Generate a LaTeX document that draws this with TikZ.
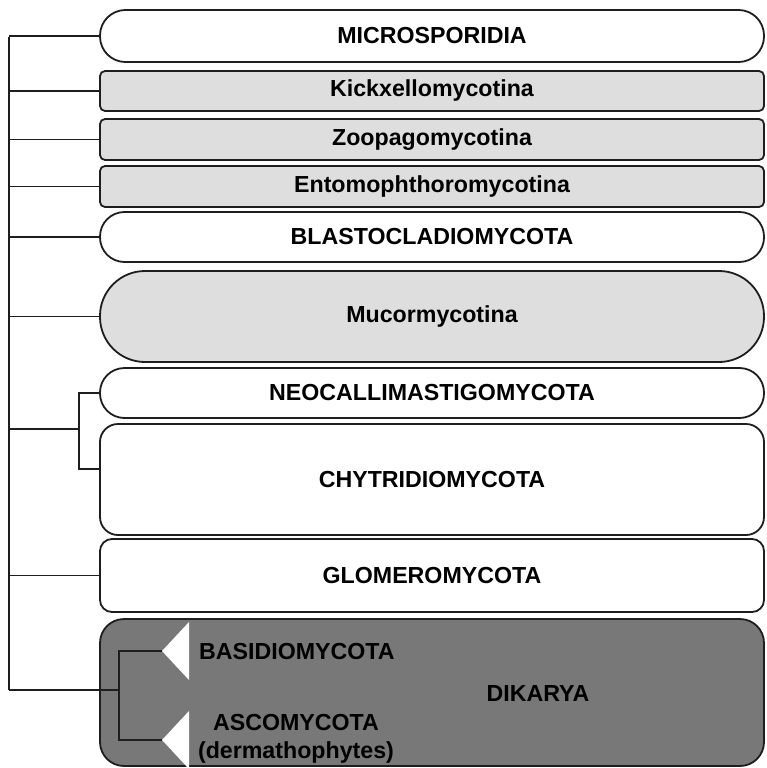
\documentclass[tikz,border=0pt]{standalone}
\usepackage{fontspec}
\setmainfont{Liberation Sans}
\usepackage{tikz}
\usetikzlibrary{positioning}

\definecolor{lightgrey}{HTML}{DEDEDE}
\definecolor{darkgrey}{HTML}{787878}
\definecolor{linegrey}{HTML}{1E1E1E}

\begin{document}
\begin{tikzpicture}[
x=1pt, y=-1pt,
box/.style={
draw=linegrey,
line width=1.8pt,
minimum width=664pt,
inner sep=0pt,
font=\fontsize{23.2}{28}\selectfont\bfseries
},
lab/.style={
inner sep=0pt,
align=center,
font=\fontsize{23.2}{28}\selectfont\bfseries
},
branch/.style={
draw=linegrey,
line width=1.3pt
}
]

\useasboundingbox (0,0) rectangle (766,768);

% clade boxes
\node[box, minimum height=52pt, rounded corners=25.5pt] (micro)
at (432,36) {MICROSPORIDIA};

\node[box, fill=lightgrey, minimum height=40pt, rounded corners=5pt] (kick)
at (432,91) {Kickxellomycotina};

\node[box, fill=lightgrey, minimum height=41pt, rounded corners=5pt] (zoop)
at (432,139.5) {Zoopagomycotina};

\node[box, fill=lightgrey, minimum height=41pt, rounded corners=5pt] (ento)
at (432,186.5) {Entomophthoromycotina};

\node[box, minimum height=50pt, rounded corners=24.5pt] (blast)
at (432,237) {BLASTOCLADIOMYCOTA};

\node[box, fill=lightgrey, minimum height=91pt, rounded corners=45pt] (mucor)
at (432,316.5) {Mucormycotina};

\node[box, minimum height=50pt, rounded corners=24.5pt] (neo)
at (432,393) {NEOCALLIMASTIGOMYCOTA};

\node[box, minimum height=111pt, rounded corners=18pt] (chy)
at (432,479.5) {CHYTRIDIOMYCOTA};

\node[box, minimum height=73pt, rounded corners=12pt] (glom)
at (432,575.5) {GLOMEROMYCOTA};

\node[box, fill=darkgrey, minimum height=147pt, rounded corners=24pt] (dik)
at (432,692.5) {};

% tree
\coordinate (root) at (9,37);
\coordinate (cj) at (79,429);
\coordinate (dj) at (119,690);
\coordinate (bt) at (162,651);
\coordinate (at) at (162,740);

\draw[branch] (root) -- (root |- dj);

\foreach \n in {micro,kick,zoop,ento,blast,mucor,glom}
\draw[branch] (\n.west) -- (\n.west -| root);

\draw[branch] (cj) -- (cj -| root);
\draw[branch] (neo.west) -| (cj) |- ([yshift=10.5pt]chy.west);

\draw[branch] (dj) -- (dj -| root);
\draw[branch] (bt) -| (dj) |- (at);

\fill[white] (bt) -- ++(27,-29) -- ++(0,58) -- cycle;
\fill[white] (at) -- ++(27,-29) -- ++(0,58) -- cycle;

% dikarya labels
\node[lab, anchor=west] (basid) at (199,652) {BASIDIOMYCOTA};
\node[lab] (asco) at (296,739) {ASCOMYCOTA\\(dermathophytes)};
\node[lab] (diklab) at (538,694) {DIKARYA};

\end{tikzpicture}
\end{document}
